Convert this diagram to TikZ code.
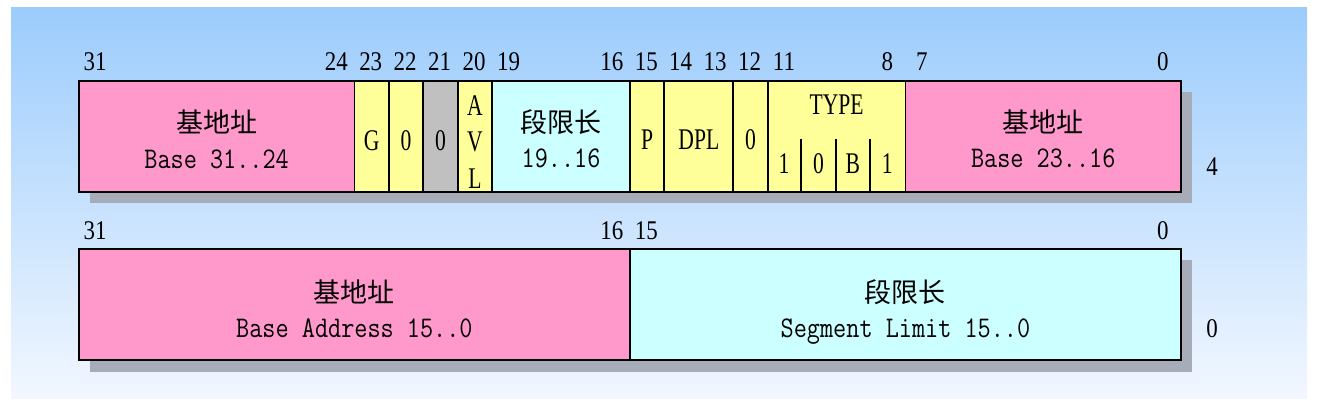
\documentclass[tikz,border=0pt]{standalone}
\usepackage{fontspec}
\setmainfont{Liberation Serif}[FakeStretch=0.85]
\setmonofont{Latin Modern Mono}[FakeStretch=0.85]
\newfontfamily\narrow{Liberation Serif}[FakeStretch=0.72]
\newfontfamily\cjk{Noto Sans CJK SC}
\usetikzlibrary{calc}
\definecolor{bgtop}{RGB}{156,204,252}
\definecolor{bgbottom}{RGB}{242,247,255}
\definecolor{basepink}{RGB}{255,153,204}
\definecolor{flagyellow}{RGB}{255,255,153}
\definecolor{limitcyan}{RGB}{204,255,255}
\definecolor{zerogray}{RGB}{192,192,192}
\definecolor{shadowgray}{RGB}{166,173,185}

\begin{document}
\begin{tikzpicture}[x=0.5pt, y=-0.5pt,
    declare function={bx(\i)=78+(31-\i)*34.44;},
    field/.style={draw, line width=0.9pt, anchor=north west, inner sep=0pt,
      minimum height=55.5pt},
    nbits/.style={minimum width=#1*17.22pt},
    bitnum/.style={font=\fontsize{13.5}{16}\selectfont, inner sep=0pt,
      text height=0.66em, text depth=0pt},
    letter/.style={font=\narrow\fontsize{15}{17}\selectfont, inner sep=0pt,
      text height=0.66em, text depth=0pt},
    mono/.style={font=\ttfamily\fontsize{15}{17}\selectfont, inner sep=0pt,
      text height=0.61em, text depth=0pt},
    hanzi/.style={font=\cjk\fontsize{13.5}{16}\selectfont, inner sep=0pt,
      text height=0.8em, text depth=0.08em}]
  \useasboundingbox (0,0) rectangle (1320,406);
  \fill[white] (0,0) rectangle (1320,406);
  \shade[top color=bgtop, bottom color=bgbottom] (11,8) rectangle (1307,398);

  % shadows
  \fill[shadowgray] (90,92) rectangle (1192,203);
  \fill[shadowgray] (90,260) rectangle (1192,372);

  % high word (4)
  \node[field, nbits=8, fill=basepink] (hibase) at ({bx(31)},80) {};
  \node[field, nbits=1, fill=flagyellow] (gbit) at ({bx(23)},80) {};
  \node[field, nbits=1, fill=flagyellow] (dbbit) at ({bx(22)},80) {};
  \node[field, nbits=1, fill=zerogray] (resbit) at ({bx(21)},80) {};
  \node[field, nbits=1, fill=flagyellow] (avlbit) at ({bx(20)},80) {};
  \node[field, nbits=4, fill=limitcyan] (hilimit) at ({bx(19)},80) {};
  \node[field, nbits=1, fill=flagyellow] (pbit) at ({bx(15)},80) {};
  \node[field, nbits=2, fill=flagyellow] (dpl) at ({bx(14)},80) {};
  \node[field, nbits=1, fill=flagyellow] (sbit) at ({bx(12)},80) {};
  \node[field, nbits=4, fill=flagyellow] (type) at ({bx(11)},80) {};
  \node[field, nbits=8, fill=basepink] (midbase) at ({bx(7)},80) {};
  \foreach \b in {10,9,8}
    \draw[line width=0.9pt] ({bx(\b)},139) -- ({bx(\b)},191);

  \node[hanzi] (hibase-cn) at ($(hibase.north)+(0,45)$) {基地址};
  \node[mono] (hibase-en) at ($(hibase.north)+(0,82)$) {Base 31..24};
  \node[letter] (gtxt) at ($(gbit.north)+(0,64)$) {G};
  \node[letter] (dbtxt) at ($(dbbit.north)+(0,64)$) {0};
  \node[letter] (restxt) at ($(resbit.north)+(0,64)$) {0};
  \node[letter] (avl-a) at ($(avlbit.north)+(0,29)$) {A};
  \node[letter] (avl-v) at ($(avlbit.north)+(0,65)$) {V};
  \node[letter] (avl-l) at ($(avlbit.north)+(0,102)$) {L};
  \node[hanzi] (hilimit-cn) at ($(hilimit.north)+(0,45)$) {段限长};
  \node[mono] (hilimit-en) at ($(hilimit.north)+(0,81)$) {19..16};
  \node[letter] (ptxt) at ($(pbit.north)+(0,63)$) {P};
  \node[letter] (dpltxt) at ($(dpl.north)+(0,63)$) {DPL};
  \node[letter] (stxt) at ($(sbit.north)+(0,63)$) {0};
  \node[letter] (typetxt) at ($(type.north)+(0,28)$) {TYPE};
  \foreach \b/\t in {11/1,10/0,9/B,8/1}
    \node[letter] (type\b) at ({bx(\b)+17.22},167) {\t};
  \node[hanzi] (midbase-cn) at ($(midbase.north)+(0,45)$) {基地址};
  \node[mono] (midbase-en) at ($(midbase.north)+(0,81)$) {Base 23..16};

  % low word (0)
  \node[field, nbits=16, fill=basepink] (lobase) at ({bx(31)},248) {};
  \node[field, nbits=16, fill=limitcyan] (lolimit) at ({bx(15)},248) {};
  \node[hanzi] (lobase-cn) at ($(lobase.north)+(0,47)$) {基地址};
  \node[mono] (lobase-en) at ($(lobase.north)+(0,83)$) {Base Address 15..0};
  \node[hanzi] (lolimit-cn) at ($(lolimit.north)+(0,47)$) {段限长};
  \node[mono] (lolimit-en) at ($(lolimit.north)+(0,83)$) {Segment Limit 15..0};

  % bit numbers
  \foreach \b in {31,24,23,22,21,20,19,16,15,14,13,12,11,8,7,0}
    \node[bitnum] (hi\b) at ({bx(\b)+17.22},64) {\b};
  \foreach \b in {31,16,15,0}
    \node[bitnum] (lo\b) at ({bx(\b)+17.22},233) {\b};
  \node[bitnum] (row4) at (1212,169) {4};
  \node[bitnum] (row0) at (1212,331) {0};
\end{tikzpicture}
\end{document}
